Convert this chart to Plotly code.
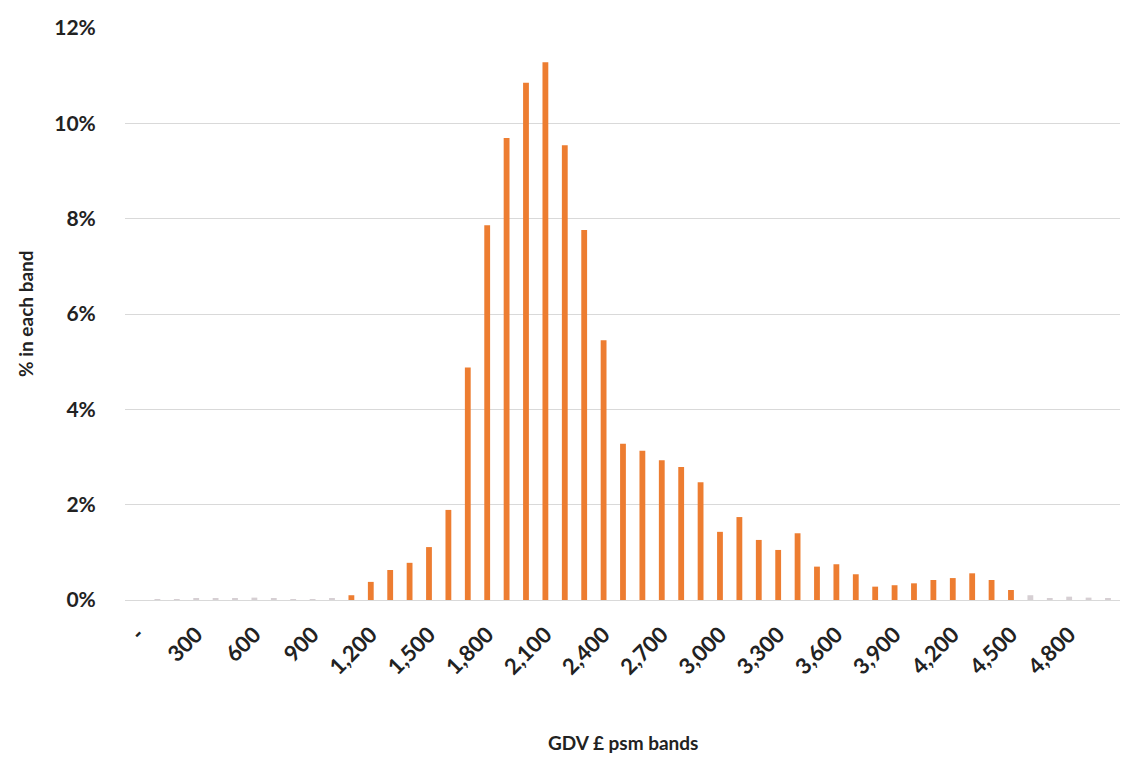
import plotly.graph_objects as go

# GDV £ psm band (lower bound), step 100
bands = list(range(0, 5001, 100))
# % in each band
pct = [0.0, 0.01, 0.01, 0.04, 0.03, 0.04, 0.05, 0.03, 0.02, 0.02,
       0.03, 0.10, 0.38, 0.63, 0.78, 1.11, 1.89, 4.88, 7.86, 9.69,
       10.85, 11.28, 9.54, 7.76, 5.45, 3.28, 3.13, 2.93, 2.79, 2.47,
       1.43, 1.74, 1.26, 1.05, 1.40, 0.70, 0.75, 0.54, 0.28, 0.31,
       0.35, 0.42, 0.46, 0.56, 0.42, 0.21, 0.10, 0.04, 0.07, 0.05, 0.03]
tick_vals = list(range(0, 4801, 300))
tick_text = ["-"] + [f"{v:,}" for v in tick_vals[1:]]
y_ticks = [0, 2, 4, 6, 8, 10, 12]
y_text = [f"{v}%" for v in y_ticks]

colors = ["#ED7D31" if 1100 <= b <= 4500 else "#d6cfd3" for b in bands]

fig = go.Figure(go.Bar(x=bands, y=pct, marker=dict(color=colors, line=dict(width=0)),
                       width=[30] * len(bands)))

font_family = "Lato, 'Open Sans', sans-serif"
fig.update_layout(
    width=1124, height=761,
    margin=dict(l=117, r=12, t=20, b=169),
    plot_bgcolor="white", paper_bgcolor="white",
    showlegend=False,
    font=dict(family=font_family, color="#222222"),
    xaxis=dict(
        range=[-67, 5062], automargin=False,
        tickmode="array", tickvals=tick_vals, ticktext=tick_text,
        tickangle=-45, tickfont=dict(size=22, family=font_family, weight="bold", color="#222222"),
        showgrid=False, zeroline=False, showline=False,
        ticks="outside", ticklen=12, tickcolor="rgba(0,0,0,0)",
    ),
    yaxis=dict(
        range=[0, 12], automargin=False, tickmode="array", tickvals=y_ticks, ticktext=y_text,
        tickfont=dict(size=21, family=font_family, weight="bold", color="#222222"),
        showgrid=True, gridcolor="#d9d9d9", gridwidth=1,
        zeroline=True, zerolinecolor="#d9d9d9", zerolinewidth=1,
        showline=False, ticks="outside", ticklen=24, tickcolor="rgba(0,0,0,0)",
    ),
    annotations=[
        dict(text="<b>GDV £ psm bands</b>", xref="paper", yref="paper", x=0.5, y=0,
             xanchor="center", yanchor="middle", yshift=-142, showarrow=False,
             font=dict(size=19, color="#222222", family=font_family)),
        dict(text="<b>% in each band</b>", xref="paper", yref="paper", x=0, y=0.5,
             xanchor="center", yanchor="middle", xshift=-100, textangle=-90, showarrow=False,
             font=dict(size=19, color="#222222", family=font_family)),
    ],
)

fig.write_html("out.html")
